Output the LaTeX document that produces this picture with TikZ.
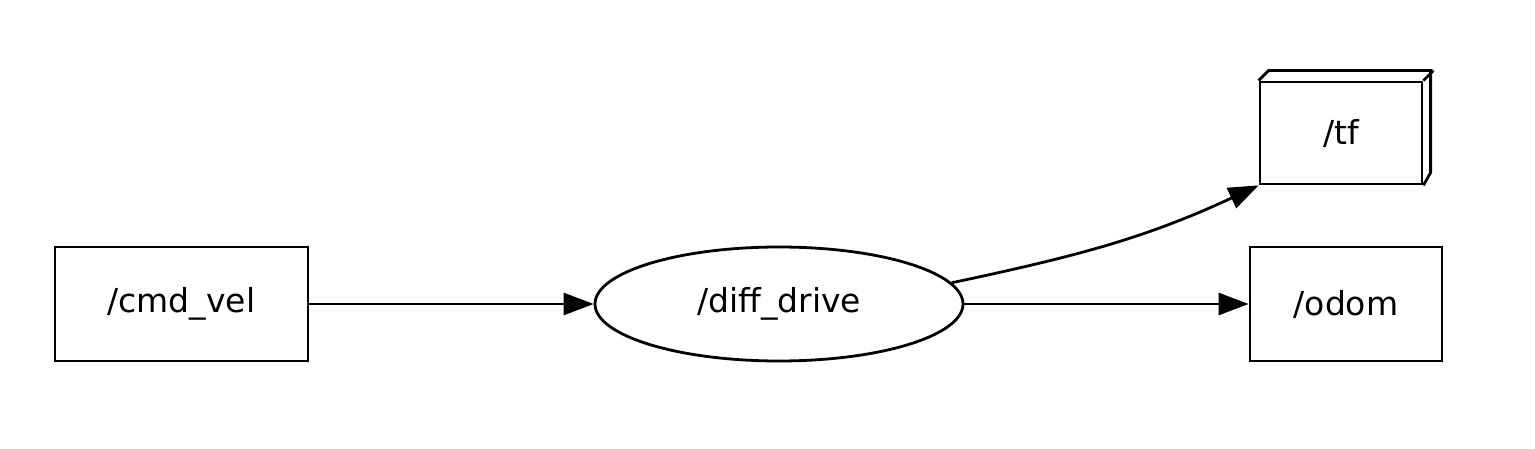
\documentclass[tikz,border=0pt]{standalone}
\usepackage{fontspec}
\setmainfont{DejaVu Sans}
\usepackage{tikz}
\usetikzlibrary{arrows.meta,shapes.geometric}

\begin{document}
\begin{tikzpicture}[x=1pt,y=-1pt,line width=2.8pt,
  topic/.style={draw,rectangle,inner sep=0pt,font=\fontsize{33}{40}\selectfont},
  nodebox/.style={draw,ellipse,inner sep=0pt,font=\fontsize{33}{40}\selectfont},
  msg/.style={-{Triangle[length=30pt,width=22pt]}}]
\useasboundingbox (0,0) rectangle (1535,449);

% Left side - input topic
\node[topic,minimum width=253pt,minimum height=114pt] (cmdvel) at (181.5,304) {/cmd\_vel};

% Middle - node
\node[nodebox,minimum width=368pt,minimum height=114pt] (diffdrive) at (779,304) {/diff\_drive};

% Right side - output topics
\node[topic,minimum width=162pt,minimum height=102pt] (tf) at (1341,133) {/tf};
\draw (tf.north west) -- ++(10,-10) -- ++(162,0) -- ++(0,102) -- (tf.south east);
\draw (tf.north east) -- ++(10,-10);
\node[topic,minimum width=192pt,minimum height=114pt] (odom) at (1346,304) {/odom};

% Arrows
\draw[msg] (cmdvel) -- (diffdrive);
\draw[msg] (diffdrive) -- (odom);
\draw[msg] (diffdrive.7) to[out=12,in=205] (tf.south west);
\end{tikzpicture}
\end{document}
